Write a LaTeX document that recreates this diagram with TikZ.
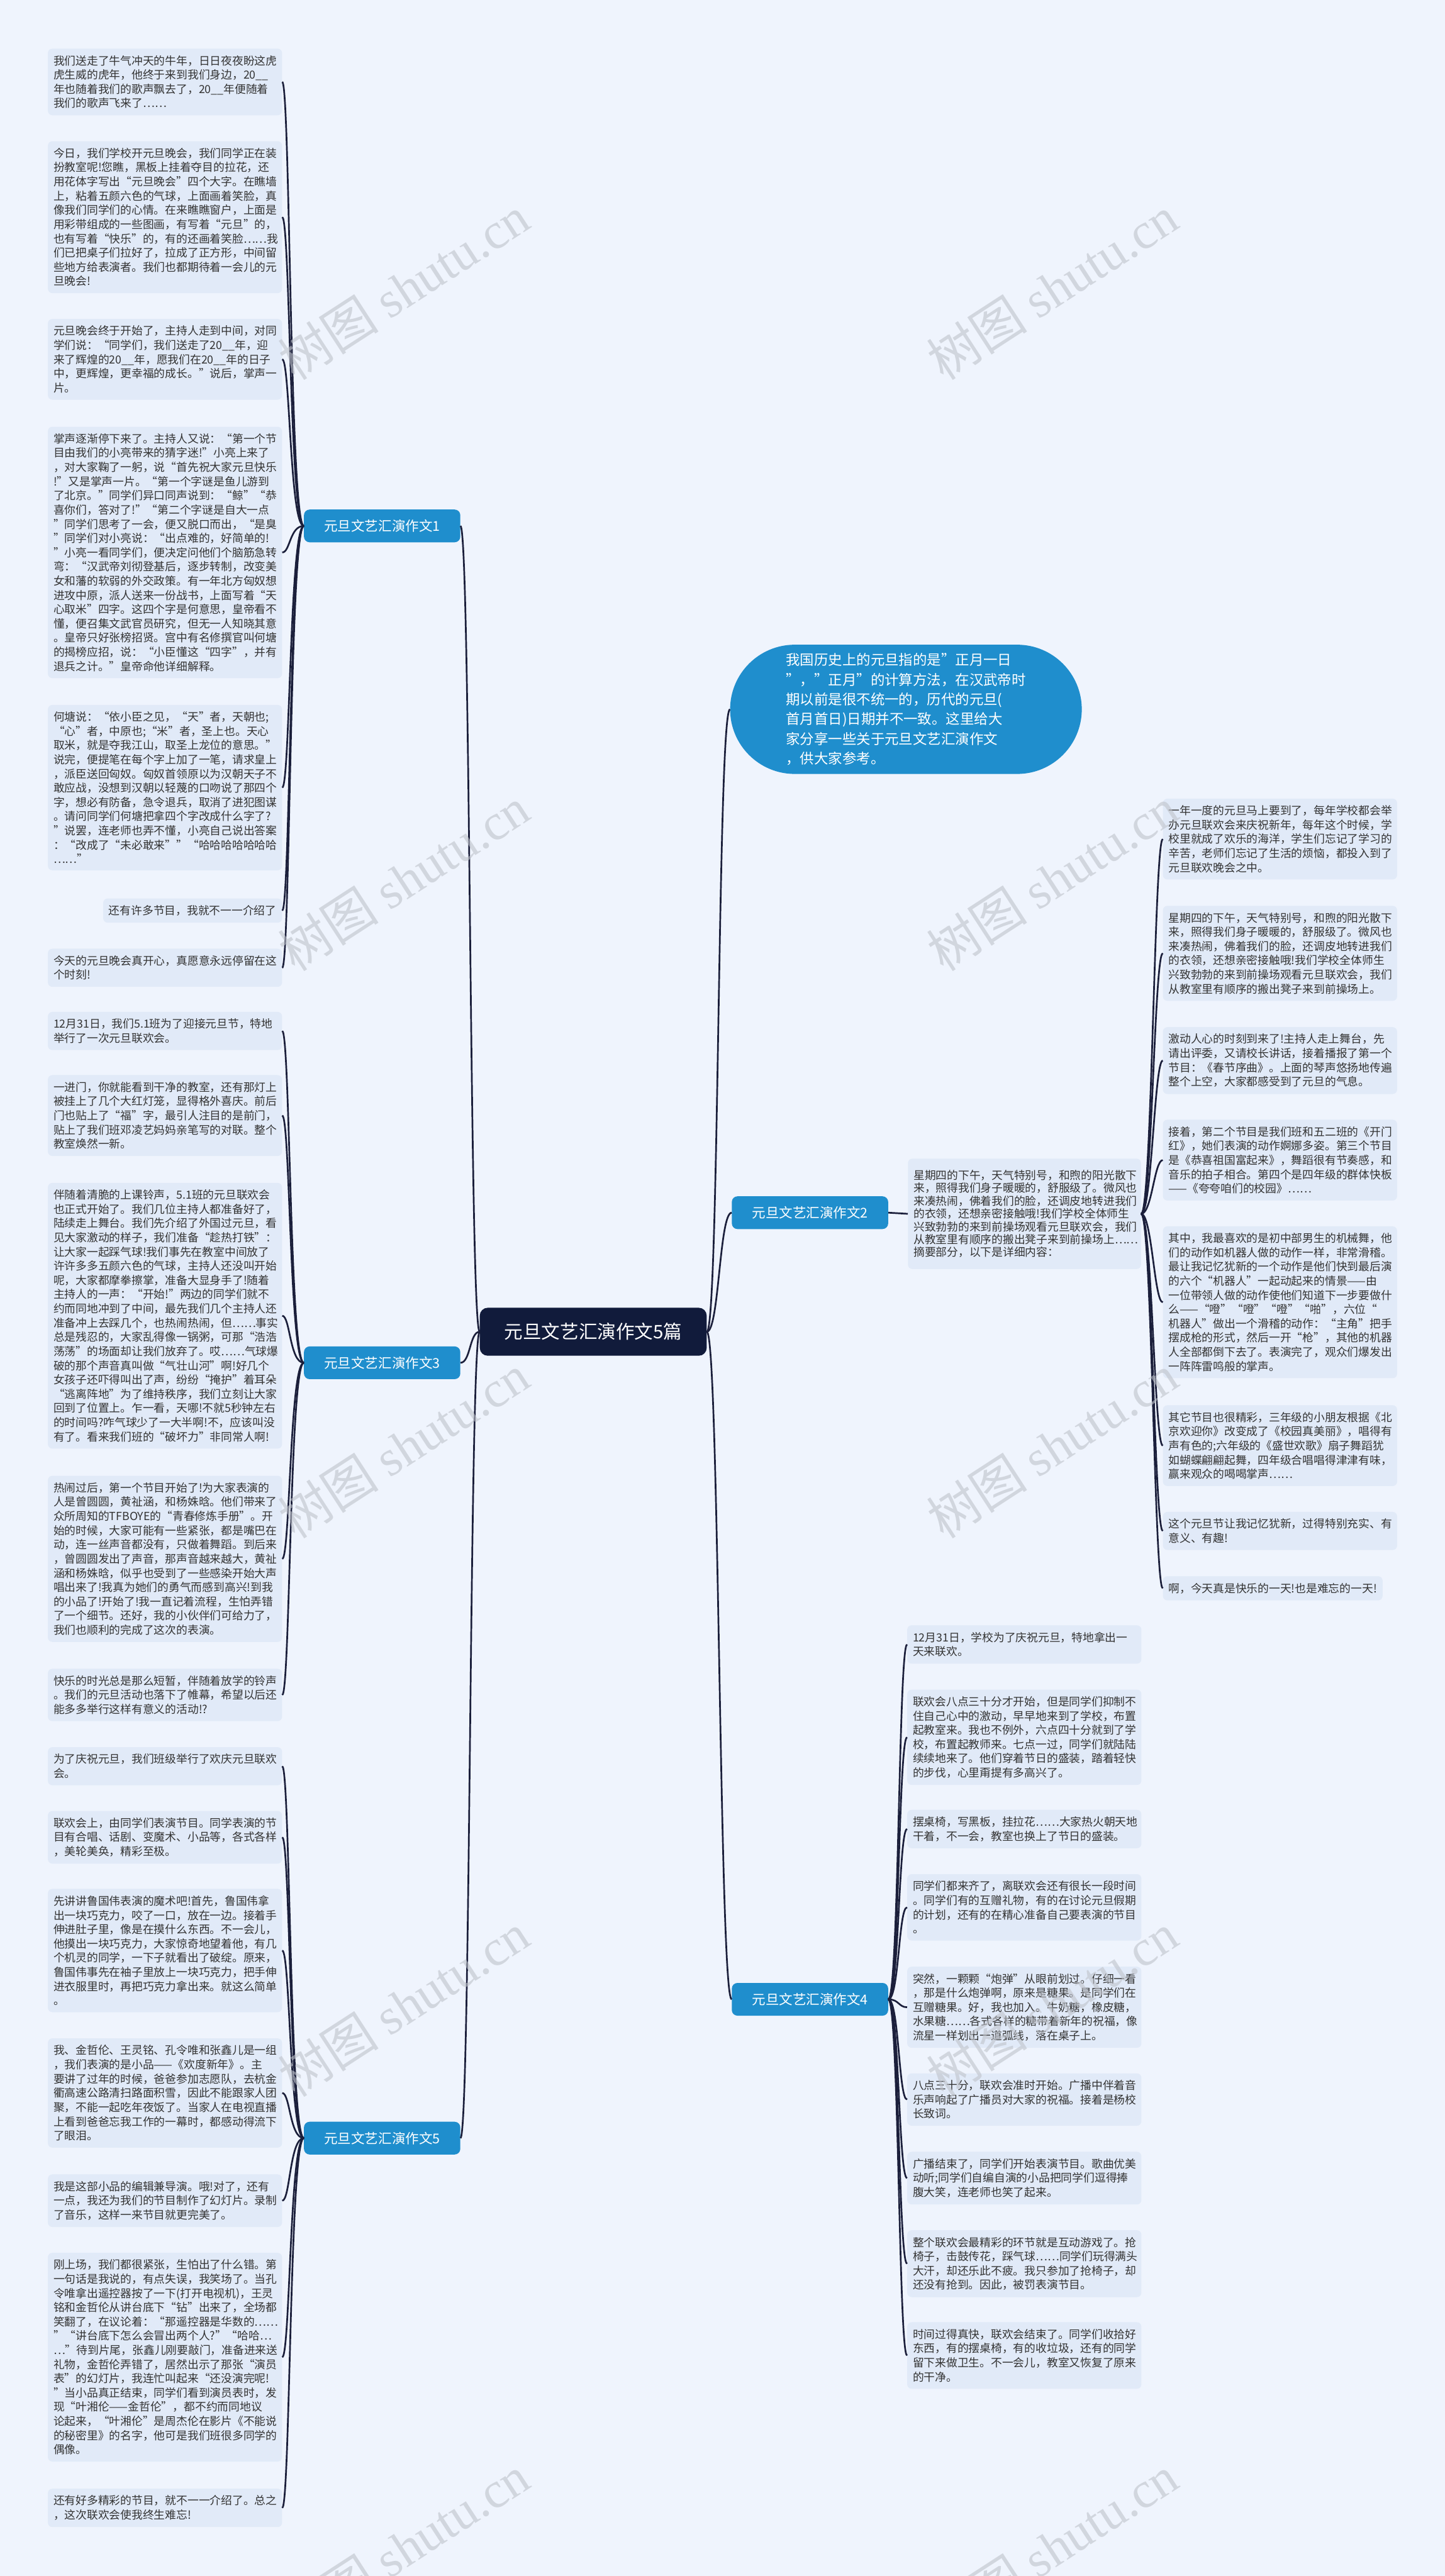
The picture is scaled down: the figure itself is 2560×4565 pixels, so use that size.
\documentclass[tikz,border=0pt]{standalone}
\usepackage{fontspec}
\setmainfont{Noto Sans CJK SC}
\newfontfamily\wmfont{Liberation Serif}
\usepackage{tikz}
\usetikzlibrary{shapes.misc}
\usepackage{xcolor}
\definecolor{bgblue}{HTML}{EFF4FD}
\definecolor{boxblue}{HTML}{E1EAF8}
\definecolor{topicblue}{HTML}{1F8ECD}
\definecolor{navy}{HTML}{111B3B}
\definecolor{linecol}{HTML}{1B1F3B}
\definecolor{textgray}{HTML}{333333}
\definecolor{wmgray}{HTML}{BEC2CA}

\begin{document}
\begin{tikzpicture}[x=1pt, y=-1pt,
    leaf/.style={fill=boxblue, rounded corners=8pt, text=textgray, inner xsep=10pt, inner ysep=12pt, align=left, font=\fontsize{19.8}{25.2}\selectfont},
    wide/.style={leaf, text width=395pt},
    topic/.style={fill=topicblue, text=white, rounded corners=10pt, minimum width=277pt, minimum height=58pt, font=\fontsize{24}{28}\selectfont},
    link/.style={draw=linecol, line width=3pt},
    wmark/.style={rotate=33, text=wmgray, opacity=0.6, font=\fontsize{90}{90}\selectfont}]

    \fill[bgblue] (0,0) rectangle (2560,4565);
    \useasboundingbox (0,0) rectangle (2560,4565);

    % centre and topics
    \node[fill=navy, text=white, rounded corners=14pt, minimum width=402pt, minimum height=85pt, font=\fontsize{33}{40}\selectfont] (c) at (1051,2360) {元旦文艺汇演作文5篇};
    \node[rounded rectangle, fill=topicblue, text=white, minimum height=229pt, minimum width=623pt, inner xsep=0pt, align=left, font=\fontsize{25}{35}\selectfont] (intro) at (1605,1257) {我国历史上的元旦指的是"正月一日\\"，"正月"的计算方法，在汉武帝时\\期以前是很不统一的，历代的元旦(\\首月首日)日期并不一致。这里给大\\家分享一些关于元旦文艺汇演作文\\，供大家参考。};
    \node[topic] (w1) at (677,932) {元旦文艺汇演作文1};
    \node[topic] (w3) at (677,2415) {元旦文艺汇演作文3};
    \node[topic] (w5) at (677,3789) {元旦文艺汇演作文5};
    \node[topic] (w2) at (1435,2149) {元旦文艺汇演作文2};
    \node[topic] (w4) at (1435,3543) {元旦文艺汇演作文4};

    % essay 1
    \node[wide, anchor=north east] (l1a) at (500,86) {我们送走了牛气冲天的牛年，日日夜夜盼这虎\\虎生威的虎年，他终于来到我们身边，20\_\_\\年也随着我们的歌声飘去了，20\_\_年便随着\\我们的歌声飞来了……};
    \node[wide, anchor=north east] (l1b) at (500,250) {今日，我们学校开元旦晚会，我们同学正在装\\扮教室呢!您瞧，黑板上挂着夺目的拉花，还\\用花体字写出“元旦晚会”四个大字。在瞧墙\\上，粘着五颜六色的气球，上面画着笑脸，真\\像我们同学们的心情。在来瞧瞧窗户，上面是\\用彩带组成的一些图画，有写着“元旦”的，\\也有写着“快乐”的，有的还画着笑脸……我\\们已把桌子们拉好了，拉成了正方形，中间留\\些地方给表演者。我们也都期待着一会儿的元\\旦晚会!};
    \node[wide, anchor=north east] (l1c) at (500,565) {元旦晚会终于开始了，主持人走到中间，对同\\学们说：“同学们，我们送走了20\_\_年，迎\\来了辉煌的20\_\_年，愿我们在20\_\_年的日子\\中，更辉煌，更幸福的成长。”说后，掌声一\\片。};
    \node[wide, anchor=north east] (l1d) at (500,756) {掌声逐渐停下来了。主持人又说：“第一个节\\目由我们的小亮带来的猜字迷!”小亮上来了\\，对大家鞠了一躬，说“首先祝大家元旦快乐\\!”又是掌声一片。“第一个字谜是鱼儿游到\\了北京。”同学们异口同声说到：“鲸”“恭\\喜你们，答对了!”“第二个字谜是自大一点\\”同学们思考了一会，便又脱口而出，“是臭\\”同学们对小亮说：“出点难的，好简单的!\\”小亮一看同学们，便决定问他们个脑筋急转\\弯：“汉武帝刘彻登基后，逐步转制，改变美\\女和藩的软弱的外交政策。有一年北方匈奴想\\进攻中原，派人送来一份战书，上面写着“天\\心取米”四字。这四个字是何意思，皇帝看不\\懂，便召集文武官员研究，但无一人知晓其意\\。皇帝只好张榜招贤。宫中有名修撰官叫何塘\\的揭榜应招，说：“小臣懂这“四字”，并有\\退兵之计。”皇帝命他详细解释。};
    \node[wide, anchor=north east] (l1e) at (500,1249) {何塘说：“依小臣之见，“天”者，天朝也;\\“心”者，中原也;“米”者，圣上也。天心\\取米，就是夺我江山，取圣上龙位的意思。”\\说完，便提笔在每个字上加了一笔，请求皇上\\，派臣送回匈奴。匈奴首领原以为汉朝天子不\\敢应战，没想到汉朝以轻蔑的口吻说了那四个\\字，想必有防备，急令退兵，取消了进犯图谋\\。请问同学们何塘把拿四个字改成什么字了?\\”说罢，连老师也弄不懂，小亮自己说出答案\\：“改成了“未必敢来””“哈哈哈哈哈哈哈\\……”};
    \node[leaf, anchor=north east] (l1f) at (500,1592) {还有许多节目，我就不一一介绍了};
    \node[wide, anchor=north east] (l1g) at (500,1681) {今天的元旦晚会真开心，真愿意永远停留在这\\个时刻!};

    % essay 3
    \node[wide, anchor=north east] (l3a) at (500,1793) {12月31日，我们5.1班为了迎接元旦节，特地\\举行了一次元旦联欢会。};
    \node[wide, anchor=north east] (l3b) at (500,1905) {一进门，你就能看到干净的教室，还有那灯上\\被挂上了几个大红灯笼，显得格外喜庆。前后\\门也贴上了“福”字，最引人注目的是前门，\\贴上了我们班邓凌艺妈妈亲笔写的对联。整个\\教室焕然一新。};
    \node[wide, anchor=north east] (l3c) at (500,2096) {伴随着清脆的上课铃声，5.1班的元旦联欢会\\也正式开始了。我们几位主持人都准备好了，\\陆续走上舞台。我们先介绍了外国过元旦，看\\见大家激动的样子，我们准备“趁热打铁”：\\让大家一起踩气球!我们事先在教室中间放了\\许许多多五颜六色的气球，主持人还没叫开始\\呢，大家都摩拳擦掌，准备大显身手了!随着\\主持人的一声：“开始!”两边的同学们就不\\约而同地冲到了中间，最先我们几个主持人还\\准备冲上去踩几个，也热闹热闹，但……事实\\总是残忍的，大家乱得像一锅粥，可那“浩浩\\荡荡”的场面却让我们放弃了。哎……气球爆\\破的那个声音真叫做“气壮山河”啊!好几个\\女孩子还吓得叫出了声，纷纷“掩护”着耳朵\\“逃离阵地”为了维持秩序，我们立刻让大家\\回到了位置上。乍一看，天哪!不就5秒钟左右\\的时间吗?咋气球少了一大半啊!不，应该叫没\\有了。看来我们班的“破坏力”非同常人啊!};
    \node[wide, anchor=north east] (l3d) at (500,2615) {热闹过后，第一个节目开始了!为大家表演的\\人是曾圆圆，黄祉涵，和杨姝晗。他们带来了\\众所周知的TFBOYE的“青春修炼手册”。开\\始的时候，大家可能有一些紧张，都是嘴巴在\\动，连一丝声音都没有，只做着舞蹈。到后来\\，曾圆圆发出了声音，那声音越来越大，黄祉\\涵和杨姝晗，似乎也受到了一些感染开始大声\\唱出来了!我真为她们的勇气而感到高兴!到我\\的小品了!开始了!我一直记着流程，生怕弄错\\了一个细节。还好，我的小伙伴们可给力了，\\我们也顺利的完成了这次的表演。};
    \node[wide, anchor=north east] (l3e) at (500,2957) {快乐的时光总是那么短暂，伴随着放学的铃声\\。我们的元旦活动也落下了帷幕，希望以后还\\能多多举行这样有意义的活动!?};

    % essay 5
    \node[wide, anchor=north east] (l5a) at (500,3096) {为了庆祝元旦，我们班级举行了欢庆元旦联欢\\会。};
    \node[wide, anchor=north east] (l5b) at (500,3209) {联欢会上，由同学们表演节目。同学表演的节\\目有合唱、话剧、变魔术、小品等，各式各样\\，美轮美奂，精彩至极。};
    \node[wide, anchor=north east] (l5c) at (500,3347) {先讲讲鲁国伟表演的魔术吧!首先，鲁国伟拿\\出一块巧克力，咬了一口，放在一边。接着手\\伸进肚子里，像是在摸什么东西。不一会儿，\\他摸出一块巧克力，大家惊奇地望着他，有几\\个机灵的同学，一下子就看出了破绽。原来，\\鲁国伟事先在袖子里放上一块巧克力，把手伸\\进衣服里时，再把巧克力拿出来。就这么简单\\。};
    \node[wide, anchor=north east] (l5d) at (500,3612) {我、金哲伦、王灵铭、孔令唯和张鑫儿是一组\\，我们表演的是小品——《欢度新年》。主\\要讲了过年的时候，爸爸参加志愿队，去杭金\\衢高速公路清扫路面积雪，因此不能跟家人团\\聚，不能一起吃年夜饭了。当家人在电视直播\\上看到爸爸忘我工作的一幕时，都感动得流下\\了眼泪。};
    \node[wide, anchor=north east] (l5e) at (500,3853) {我是这部小品的编辑兼导演。哦!对了，还有\\一点，我还为我们的节目制作了幻灯片。录制\\了音乐，这样一来节目就更完美了。};
    \node[wide, anchor=north east] (l5f) at (500,3992) {刚上场，我们都很紧张，生怕出了什么错。第\\一句话是我说的，有点失误，我笑场了。当孔\\令唯拿出遥控器按了一下(打开电视机)，王灵\\铭和金哲伦从讲台底下“钻”出来了，全场都\\笑翻了，在议论着：“那遥控器是华数的……\\”“讲台底下怎么会冒出两个人?”“哈哈…\\…”待到片尾，张鑫儿刚要敲门，准备进来送\\礼物，金哲伦弄错了，居然出示了那张“演员\\表”的幻灯片，我连忙叫起来“还没演完呢!\\”当小品真正结束，同学们看到演员表时，发\\现“叶湘伦——金哲伦”，都不约而同地议\\论起来，“叶湘伦”是周杰伦在影片《不能说\\的秘密里》的名字，他可是我们班很多同学的\\偶像。};
    \node[wide, anchor=north east] (l5g) at (500,4410) {还有好多精彩的节目，就不一一介绍了。总之\\，这次联欢会使我终生难忘!};

    % essay 2
    \node[leaf, text width=393pt, inner ysep=20pt, font=\fontsize{19.8}{22.8}\selectfont] (sum) at (1815,2151) {星期四的下午，天气特别号，和煦的阳光散下\\来，照得我们身子暖暖的，舒服级了。微风也\\来凑热闹，佛着我们的脸，还调皮地转进我们\\的衣领，还想亲密接触哦!我们学校全体师生\\兴致勃勃的来到前操场观看元旦联欢会，我们\\从教室里有顺序的搬出凳子来到前操场上……\\摘要部分，以下是详细内容：};
    \node[wide, anchor=north west] (r2a) at (2060,1415) {一年一度的元旦马上要到了，每年学校都会举\\办元旦联欢会来庆祝新年，每年这个时候，学\\校里就成了欢乐的海洋，学生们忘记了学习的\\辛苦，老师们忘记了生活的烦恼，都投入到了\\元旦联欢晚会之中。};
    \node[wide, anchor=north west] (r2b) at (2060,1605) {星期四的下午，天气特别号，和煦的阳光散下\\来，照得我们身子暖暖的，舒服级了。微风也\\来凑热闹，佛着我们的脸，还调皮地转进我们\\的衣领，还想亲密接触哦!我们学校全体师生\\兴致勃勃的来到前操场观看元旦联欢会，我们\\从教室里有顺序的搬出凳子来到前操场上。};
    \node[wide, anchor=north west] (r2c) at (2060,1820) {激动人心的时刻到来了!主持人走上舞台，先\\请出评委，又请校长讲话，接着播报了第一个\\节目：《春节序曲》。上面的琴声悠扬地传遍\\整个上空，大家都感受到了元旦的气息。};
    \node[wide, anchor=north west] (r2d) at (2060,1984) {接着，第二个节目是我们班和五二班的《开门\\红》，她们表演的动作婀娜多姿。第三个节目\\是《恭喜祖国富起来》，舞蹈很有节奏感，和\\音乐的拍子相合。第四个是四年级的群体快板\\——《夸夸咱们的校园》……};
    \node[wide, anchor=north west] (r2e) at (2060,2173) {其中，我最喜欢的是初中部男生的机械舞，他\\们的动作如机器人做的动作一样，非常滑稽。\\最让我记忆犹新的一个动作是他们快到最后演\\的六个“机器人”一起动起来的情景——由\\一位带领人做的动作使他们知道下一步要做什\\么——“噔”“噔”“噔”“啪”，六位“\\机器人”做出一个滑稽的动作：“主角”把手\\摆成枪的形式，然后一开“枪”，其他的机器\\人全部都倒下去了。表演完了，观众们爆发出\\一阵阵雷鸣般的掌声。};
    \node[wide, anchor=north west] (r2f) at (2060,2490) {其它节目也很精彩，三年级的小朋友根据《北\\京欢迎你》改变成了《校园真美丽》，唱得有\\声有色的;六年级的《盛世欢歌》扇子舞蹈犹\\如蝴蝶翩翩起舞，四年级合唱唱得津津有味，\\赢来观众的喝喝掌声……};
    \node[wide, anchor=north west] (r2g) at (2060,2679) {这个元旦节让我记忆犹新，过得特别充实、有\\意义、有趣!};
    \node[leaf, anchor=north west] (r2h) at (2060,2793) {啊，今天真是快乐的一天!也是难忘的一天!};

    % essay 4
    \node[wide, anchor=north west] (r4a) at (1607,2880) {12月31日，学校为了庆祝元旦，特地拿出一\\天来联欢。};
    \node[wide, anchor=north west] (r4b) at (1607,2994) {联欢会八点三十分才开始，但是同学们抑制不\\住自己心中的激动，早早地来到了学校，布置\\起教室来。我也不例外，六点四十分就到了学\\校，布置起教师来。七点一过，同学们就陆陆\\续续地来了。他们穿着节日的盛装，踏着轻快\\的步伐，心里甭提有多高兴了。};
    \node[wide, anchor=north west] (r4c) at (1607,3207) {摆桌椅，写黑板，挂拉花……大家热火朝天地\\干着，不一会，教室也换上了节日的盛装。};
    \node[wide, anchor=north west] (r4d) at (1607,3321) {同学们都来齐了，离联欢会还有很长一段时间\\。同学们有的互赠礼物，有的在讨论元旦假期\\的计划，还有的在精心准备自己要表演的节目\\。};
    \node[wide, anchor=north west] (r4e) at (1607,3485) {突然，一颗颗“炮弹”从眼前划过。仔细一看\\，那是什么炮弹啊，原来是糖果。是同学们在\\互赠糖果。好，我也加入。牛奶糖，橡皮糖，\\水果糖……各式各样的糖带着新年的祝福，像\\流星一样划出一道弧线，落在桌子上。};
    \node[wide, anchor=north west] (r4f) at (1607,3674) {八点三十分，联欢会准时开始。广播中伴着音\\乐声响起了广播员对大家的祝福。接着是杨校\\长致词。};
    \node[wide, anchor=north west] (r4g) at (1607,3813) {广播结束了，同学们开始表演节目。歌曲优美\\动听;同学们自编自演的小品把同学们逗得捧\\腹大笑，连老师也笑了起来。};
    \node[wide, anchor=north west] (r4h) at (1607,3952) {整个联欢会最精彩的环节就是互动游戏了。抢\\椅子，击鼓传花，踩气球……同学们玩得满头\\大汗，却还乐此不疲。我只参加了抢椅子，却\\还没有抢到。因此，被罚表演节目。};
    \node[wide, anchor=north west] (r4i) at (1607,4115) {时间过得真快，联欢会结束了。同学们收拾好\\东西，有的摆桌椅，有的收垃圾，还有的同学\\留下来做卫生。不一会儿，教室又恢复了原来\\的干净。};

    % connectors
    \foreach \w in {w1,w3,w5}
        \draw[link] (c.west) .. controls +(-18,0) and +(18,0) .. (\w.east);
    \foreach \w in {intro,w2,w4}
        \draw[link] (c.east) .. controls +(22,0) and +(-22,0) .. (\w.west);
    \foreach \n in {l1a,l1b,l1c,l1d,l1e,l1f,l1g}
        \draw[link] (w1.west) .. controls +(-25,0) and +(14,0) .. (\n.east);
    \foreach \n in {l3a,l3b,l3c,l3d,l3e}
        \draw[link] (w3.west) .. controls +(-25,0) and +(14,0) .. (\n.east);
    \foreach \n in {l5a,l5b,l5c,l5d,l5e,l5f,l5g}
        \draw[link] (w5.west) .. controls +(-25,0) and +(14,0) .. (\n.east);
    \draw[link] (w2.east) -- (sum.west);
    \foreach \n in {r2a,r2b,r2c,r2d,r2e,r2f,r2g,r2h}
        \draw[link] (sum.east) .. controls +(19,0) and +(-15,0) .. (\n.west);
    \foreach \n in {r4a,r4b,r4c,r4d,r4e,r4f,r4g,r4h,r4i}
        \draw[link] (w4.east) .. controls +(19,0) and +(-15,0) .. (\n.west);

    % watermarks
    \foreach \y in {510,1558,2563,3553,4514} {
        \node[wmark] at (715,\y) {树图 {\wmfont shutu.cn}};
        \node[wmark] at (1864,\y) {树图 {\wmfont shutu.cn}};
    }
\end{tikzpicture}
\end{document}
